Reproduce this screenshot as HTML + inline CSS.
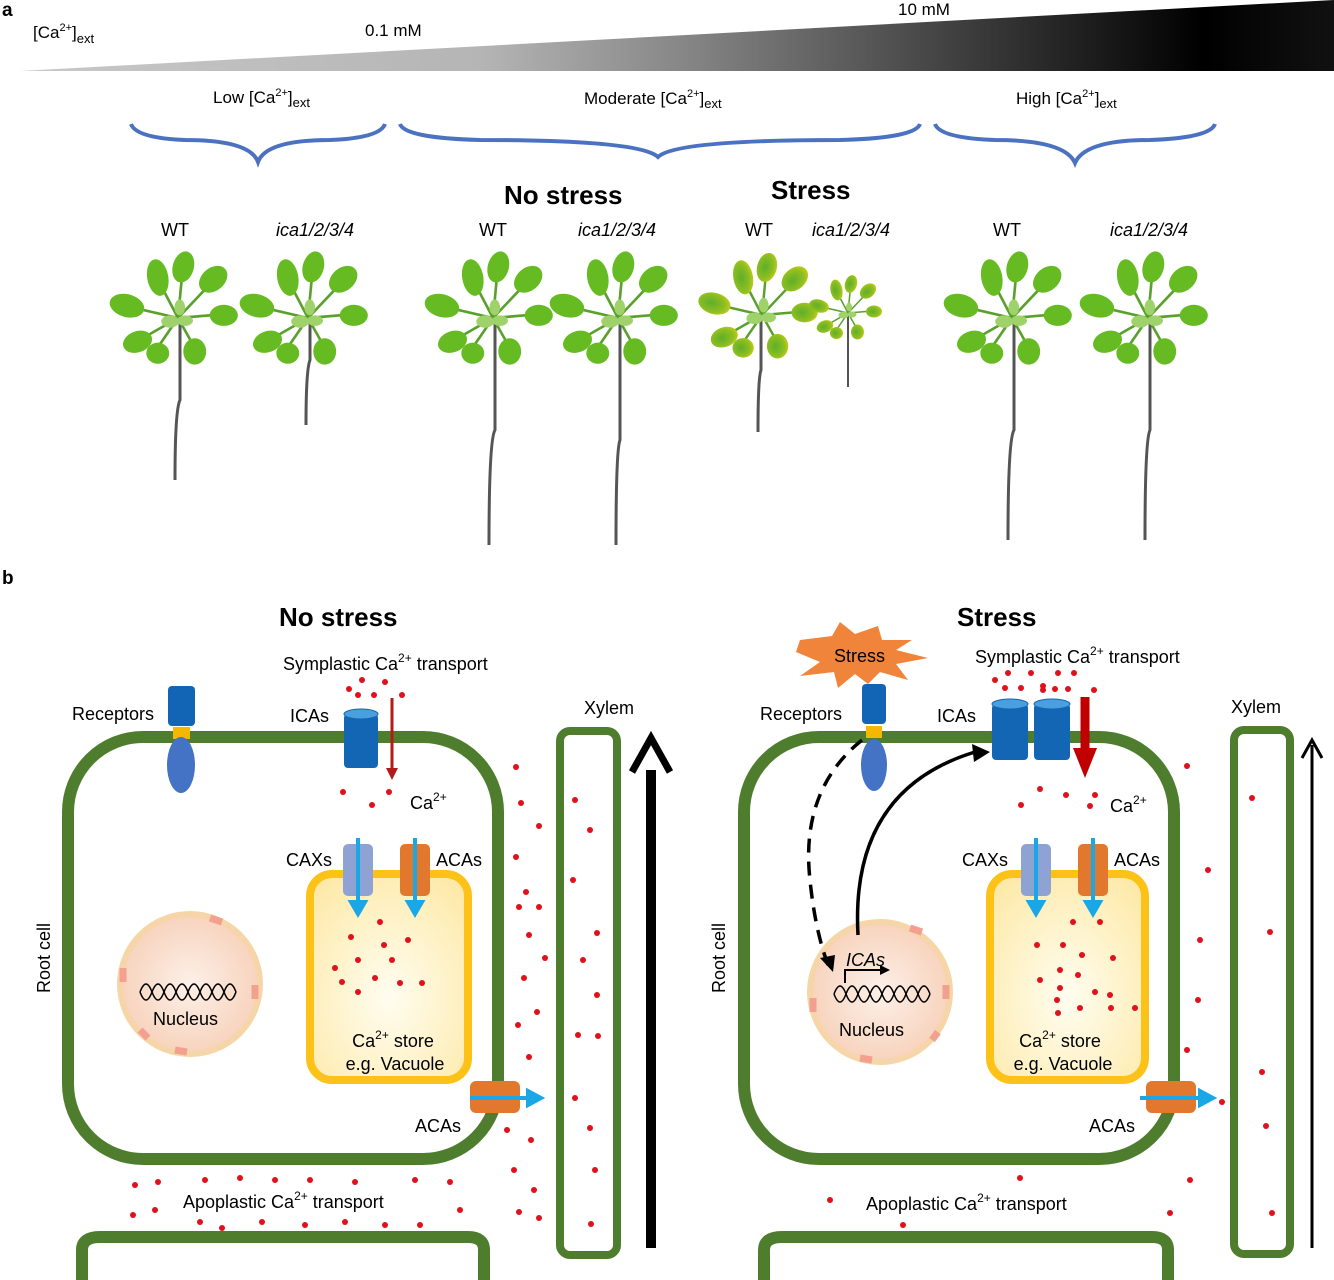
<!DOCTYPE html>
<html><head><meta charset="utf-8"><style>
body{margin:0;background:#fff;}
svg{display:block;font-family:"Liberation Sans",sans-serif;}
</style></head><body>
<svg width="1334" height="1280" viewBox="0 0 1334 1280" xmlns="http://www.w3.org/2000/svg">
<defs>
<linearGradient id="wg" x1="0" x2="1" y1="0" y2="0">
<stop offset="0" stop-color="#c8c8c8"/><stop offset="0.35" stop-color="#b5b5b5"/><stop offset="0.5" stop-color="#888"/><stop offset="0.75" stop-color="#333"/><stop offset="0.9" stop-color="#000"/><stop offset="1" stop-color="#111"/>
</linearGradient>
<radialGradient id="vg" cx="0.5" cy="0.6" r="0.7"><stop offset="0" stop-color="#fffdf0"/><stop offset="1" stop-color="#fde9a8"/></radialGradient>
<radialGradient id="ng" cx="0.5" cy="0.5" r="0.5"><stop offset="0" stop-color="#fdf0e8"/><stop offset="1" stop-color="#f7d3bd"/></radialGradient>
<radialGradient id="yl" cx="0.4" cy="0.5" r="0.7"><stop offset="0" stop-color="#5fae2a"/><stop offset="0.6" stop-color="#8fbf20"/><stop offset="1" stop-color="#dcd214"/></radialGradient>
<g id="plant">
<g stroke="#5aa02c" stroke-width="3">
<line x1="0" y1="0" x2="-52" y2="-12"/><line x1="0" y1="0" x2="-22" y2="-42"/><line x1="0" y1="0" x2="5" y2="-52"/><line x1="0" y1="0" x2="36" y2="-38"/><line x1="0" y1="0" x2="48" y2="-4"/><line x1="0" y1="0" x2="-42" y2="24"/><line x1="0" y1="0" x2="-22" y2="32"/><line x1="0" y1="0" x2="18" y2="32"/>
</g>
<g fill="#66bb22">
<ellipse cx="-58" cy="-14" rx="20" ry="13" transform="rotate(15 -58 -14)"/>
<ellipse cx="-23" cy="-46" rx="12" ry="21" transform="rotate(-10 -23 -46)"/>
<ellipse cx="6" cy="-58" rx="12" ry="18" transform="rotate(15 6 -58)"/>
<ellipse cx="40" cy="-44" rx="18" ry="13" transform="rotate(-40 40 -44)"/>
<ellipse cx="52" cy="-3" rx="16" ry="12"/>
<ellipse cx="-46" cy="27" rx="17" ry="12" transform="rotate(-20 -46 27)"/>
<ellipse cx="-23" cy="40" rx="13" ry="12"/>
<ellipse cx="19" cy="38" rx="13" ry="15"/>
</g>
<g fill="#9fd26a"><ellipse cx="-9" cy="4" rx="10" ry="7"/><ellipse cx="8" cy="3" rx="9" ry="6"/><ellipse cx="2" cy="-12" rx="6" ry="9"/></g>
</g>
<g id="splant">
<g stroke="#5aa02c" stroke-width="3">
<line x1="0" y1="0" x2="-52" y2="-12"/><line x1="0" y1="0" x2="-22" y2="-42"/><line x1="0" y1="0" x2="5" y2="-52"/><line x1="0" y1="0" x2="36" y2="-38"/><line x1="0" y1="0" x2="48" y2="-4"/><line x1="0" y1="0" x2="-42" y2="24"/><line x1="0" y1="0" x2="-22" y2="32"/><line x1="0" y1="0" x2="18" y2="32"/>
</g>
<g fill="url(#yl)">
<ellipse cx="-58" cy="-14" rx="20" ry="13" transform="rotate(15 -58 -14)"/>
<ellipse cx="-23" cy="-46" rx="12" ry="21" transform="rotate(-10 -23 -46)"/>
<ellipse cx="6" cy="-58" rx="12" ry="18" transform="rotate(15 6 -58)"/>
<ellipse cx="40" cy="-44" rx="18" ry="13" transform="rotate(-40 40 -44)"/>
<ellipse cx="52" cy="-3" rx="16" ry="12"/>
<ellipse cx="-46" cy="27" rx="17" ry="12" transform="rotate(-20 -46 27)"/>
<ellipse cx="-23" cy="40" rx="13" ry="12"/>
<ellipse cx="19" cy="38" rx="13" ry="15"/>
</g>
<g fill="#9fd26a"><ellipse cx="-9" cy="4" rx="10" ry="7"/><ellipse cx="8" cy="3" rx="9" ry="6"/><ellipse cx="2" cy="-12" rx="6" ry="9"/></g>
</g>
</defs>

<!-- panel a -->
<text x="2" y="16" font-size="19" font-weight="bold">a</text>
<polygon points="20,71 1334,0 1334,71" fill="url(#wg)"/>
<text x="33" y="38" font-size="17">[Ca<tspan font-size="11" dy="-7">2+</tspan><tspan dy="7">]</tspan><tspan font-size="13" dy="5">ext</tspan></text>
<text x="365" y="36" font-size="17">0.1 mM</text>
<text x="898" y="15" font-size="17">10 mM</text>
<text x="213" y="103" font-size="17">Low [Ca<tspan font-size="11" dy="-7">2+</tspan><tspan dy="7">]</tspan><tspan font-size="13" dy="4">ext</tspan></text>
<text x="584" y="104" font-size="17">Moderate [Ca<tspan font-size="11" dy="-7">2+</tspan><tspan dy="7">]</tspan><tspan font-size="13" dy="4">ext</tspan></text>
<text x="1016" y="104" font-size="17">High [Ca<tspan font-size="11" dy="-7">2+</tspan><tspan dy="7">]</tspan><tspan font-size="13" dy="4">ext</tspan></text>
<g fill="none" stroke="#4a72c0" stroke-width="4">
<path d="M131,124 Q136,138 185,140 Q250,140 258,162 Q266,140 330,140 Q380,138 385,124"/>
<path d="M400,124 Q405,138 480,140 Q640,140 658,157 Q675,140 840,140 Q915,138 920,124"/>
<path d="M935,124 Q940,138 995,140 Q1065,140 1075,163 Q1085,140 1150,140 Q1210,138 1215,124"/>
</g>
<text x="504" y="204" font-size="26" font-weight="bold">No stress</text>
<text x="771" y="199" font-size="26" font-weight="bold">Stress</text>
<g font-size="18">
<text x="161" y="236">WT</text><text x="276" y="236" font-style="italic">ica1/2/3/4</text>
<text x="479" y="236">WT</text><text x="578" y="236" font-style="italic">ica1/2/3/4</text>
<text x="745" y="236">WT</text><text x="812" y="236" font-style="italic">ica1/2/3/4</text>
<text x="993" y="236">WT</text><text x="1110" y="236" font-style="italic">ica1/2/3/4</text>
</g>
<g stroke="#555" stroke-width="3" fill="none">
<path d="M180,318 L180,400 Q175,410 175,480"/>
<path d="M310,318 L310,360 Q306,370 306,425"/>
<path d="M495,318 L495,430 Q489,440 489,545"/>
<path d="M620,318 L620,440 Q616,450 616,545"/>
<path d="M761,318 L761,370 Q758,378 758,432"/>
<path d="M848,315 L848,387" stroke-width="2"/>
<path d="M1014,318 L1014,430 Q1008,440 1008,540"/>
<path d="M1150,318 L1150,430 Q1145,440 1145,540"/>
</g>
<use href="#plant" transform="translate(178,318) scale(0.88)"/>
<use href="#plant" transform="translate(308,318) scale(0.88)"/>
<use href="#plant" transform="translate(493,318) scale(0.88)"/>
<use href="#plant" transform="translate(618,318) scale(0.88)"/>
<use href="#splant" transform="translate(762,315) scale(0.82)"/>
<use href="#splant" transform="translate(848,313) scale(0.5)"/>
<use href="#plant" transform="translate(1012,318) scale(0.88)"/>
<use href="#plant" transform="translate(1148,318) scale(0.88)"/>

<!-- panel b -->
<text x="2" y="584" font-size="19" font-weight="bold">b</text>
<text x="279" y="626" font-size="26" font-weight="bold">No stress</text>
<text x="957" y="626" font-size="26" font-weight="bold">Stress</text>

<g fill="none" stroke="#4e7d2e" stroke-width="12">
<rect x="68" y="737" width="430" height="422" rx="75"/>
<path d="M82,1280 L82,1250 Q82,1237 100,1237 L468,1237 Q484,1237 484,1250 L484,1280"/>
<rect x="744" y="737" width="430" height="422" rx="75"/>
<path d="M764,1280 L764,1250 Q764,1237 782,1237 L1152,1237 Q1168,1237 1168,1250 L1168,1280"/>
</g>
<g fill="none" stroke="#4e7d2e" stroke-width="8">
<rect x="560" y="731" width="57" height="524" rx="10"/>
<rect x="1234" y="730" width="56" height="524" rx="10"/>
</g>
<line x1="651" y1="1248" x2="651" y2="770" stroke="#000" stroke-width="10"/>
<path d="M632,772 L651,738 L670,772" fill="none" stroke="#000" stroke-width="7"/>
<line x1="1312" y1="1248" x2="1312" y2="745" stroke="#000" stroke-width="3"/>
<path d="M1302,758 L1312,740 L1322,758" fill="none" stroke="#000" stroke-width="3"/>

<g font-size="18">
<text x="584" y="714">Xylem</text><text x="1231" y="713">Xylem</text>
<text x="72" y="720">Receptors</text><text x="760" y="720">Receptors</text>
<text x="290" y="722">ICAs</text><text x="937" y="722">ICAs</text>
<text x="283" y="670">Symplastic Ca<tspan font-size="12" dy="-8">2+</tspan><tspan dy="8"> transport</tspan></text>
<text x="975" y="663">Symplastic Ca<tspan font-size="12" dy="-8">2+</tspan><tspan dy="8"> transport</tspan></text>
<text x="410" y="809">Ca<tspan font-size="12" dy="-8">2+</tspan></text>
<text x="1110" y="812">Ca<tspan font-size="12" dy="-8">2+</tspan></text>
<text x="286" y="866">CAXs</text><text x="436" y="866">ACAs</text>
<text x="962" y="866">CAXs</text><text x="1114" y="866">ACAs</text>
<text x="415" y="1132">ACAs</text><text x="1089" y="1132">ACAs</text>
<text x="183" y="1208">Apoplastic Ca<tspan font-size="12" dy="-8">2+</tspan><tspan dy="8"> transport</tspan></text>
<text x="866" y="1210">Apoplastic Ca<tspan font-size="12" dy="-8">2+</tspan><tspan dy="8"> transport</tspan></text>
<text transform="translate(50,993) rotate(-90)">Root cell</text>
<text transform="translate(725,993) rotate(-90)">Root cell</text>
</g>

<rect x="310" y="874" width="158" height="206" rx="22" fill="url(#vg)" stroke="#fdc217" stroke-width="8"/>
<rect x="990" y="874" width="155" height="206" rx="22" fill="url(#vg)" stroke="#fdc217" stroke-width="8"/>
<g font-size="18" text-anchor="middle">
<text x="393" y="1047">Ca<tspan font-size="12" dy="-8">2+</tspan><tspan dy="8"> store</tspan></text>
<text x="395" y="1070">e.g. Vacuole</text>
<text x="1060" y="1047">Ca<tspan font-size="12" dy="-8">2+</tspan><tspan dy="8"> store</tspan></text>
<text x="1063" y="1070">e.g. Vacuole</text>
</g>
<rect x="343" y="844" width="30" height="52" rx="5" fill="#8ea3d4"/>
<rect x="400" y="844" width="30" height="52" rx="5" fill="#e2782e"/>
<rect x="1021" y="844" width="30" height="52" rx="5" fill="#8ea3d4"/>
<rect x="1078" y="844" width="30" height="52" rx="5" fill="#e2782e"/>
<g stroke="#1aa7e6" stroke-width="4" fill="#1aa7e6">
<line x1="358" y1="838" x2="358" y2="904"/><path d="M351,902 L365,902 L358,914z"/>
<line x1="415" y1="838" x2="415" y2="904"/><path d="M408,902 L422,902 L415,914z"/>
<line x1="1036" y1="838" x2="1036" y2="904"/><path d="M1029,902 L1043,902 L1036,914z"/>
<line x1="1093" y1="838" x2="1093" y2="904"/><path d="M1086,902 L1100,902 L1093,914z"/>
</g>
<rect x="470" y="1081" width="50" height="32" rx="6" fill="#e2782e"/>
<rect x="1146" y="1081" width="50" height="32" rx="6" fill="#e2782e"/>
<g stroke="#1aa7e6" stroke-width="4" fill="#1aa7e6">
<line x1="470" y1="1098" x2="530" y2="1098"/><path d="M528,1091 L541,1098 L528,1105z"/>
<line x1="1140" y1="1098" x2="1202" y2="1098"/><path d="M1200,1091 L1213,1098 L1200,1105z"/>
</g>

<circle cx="190" cy="984" r="70" fill="url(#ng)" stroke="#f6d6a8" stroke-width="6"/>
<circle cx="880" cy="992" r="70" fill="url(#ng)" stroke="#f6d6a8" stroke-width="6"/>
<g stroke="#f2a090" stroke-width="7" fill="none">
<path d="M123,968 l0,14"/><path d="M255,985 l0,14"/><path d="M175,1050 l12,2"/><path d="M210,918 l12,4"/><path d="M140,1030 l8,8"/>
<path d="M813,998 l0,14"/><path d="M946,985 l0,14"/><path d="M860,1058 l12,2"/><path d="M910,928 l12,4"/><path d="M932,1040 l6,-8"/>
</g>
<g stroke="#000" stroke-width="1.5" fill="none">
<path d="M140,992 q6,-16 12,0 q6,16 12,0 q6,-16 12,0 q6,16 12,0 q6,-16 12,0 q6,16 12,0 q6,-16 12,0 q6,16 12,0"/>
<path d="M140,992 q6,16 12,0 q6,-16 12,0 q6,16 12,0 q6,-16 12,0 q6,16 12,0 q6,-16 12,0 q6,16 12,0 q6,-16 12,0"/>
<path d="M834,994 q6,-16 12,0 q6,16 12,0 q6,-16 12,0 q6,16 12,0 q6,-16 12,0 q6,16 12,0 q6,-16 12,0 q6,16 12,0"/>
<path d="M834,994 q6,16 12,0 q6,-16 12,0 q6,16 12,0 q6,-16 12,0 q6,16 12,0 q6,-16 12,0 q6,16 12,0 q6,-16 12,0"/>
</g>
<text x="153" y="1025" font-size="18">Nucleus</text>
<text x="839" y="1036" font-size="18">Nucleus</text>
<text x="846" y="966" font-size="18" font-style="italic">ICAs</text>
<path d="M845,983 L845,970 L882,970" stroke="#000" stroke-width="2" fill="none"/>
<path d="M880,965 L890,970 L880,975z" fill="#000"/>

<rect x="168" y="686" width="27" height="40" rx="4" fill="#1265b5"/>
<rect x="173" y="727" width="17" height="12" fill="#f5b800"/>
<ellipse cx="181" cy="765" rx="14" ry="28" fill="#4472c4"/>
<rect x="862" y="684" width="24" height="40" rx="4" fill="#1265b5"/>
<rect x="866" y="726" width="16" height="12" fill="#f5b800"/>
<ellipse cx="874" cy="765" rx="13" ry="26" fill="#4472c4"/>
<polygon points="800,640 832,636 840,622 855,634 878,626 882,640 912,640 896,650 928,658 896,664 908,680 880,672 868,684 855,674 838,688 834,672 800,676 820,662 796,652" fill="#f0843a"/>
<text x="834" y="662" font-size="18">Stress</text>

<rect x="344" y="714" width="34" height="54" rx="4" fill="#1266b4"/><ellipse cx="361" cy="714" rx="17" ry="5" fill="#4aa0de" stroke="#1266b4"/>
<rect x="992" y="704" width="36" height="56" rx="4" fill="#1266b4"/><ellipse cx="1010" cy="704" rx="18" ry="5" fill="#4aa0de" stroke="#1266b4"/>
<rect x="1034" y="704" width="36" height="56" rx="4" fill="#1266b4"/><ellipse cx="1052" cy="704" rx="18" ry="5" fill="#4aa0de" stroke="#1266b4"/>
<line x1="392" y1="698" x2="392" y2="770" stroke="#b31b1b" stroke-width="3"/>
<path d="M386,768 L398,768 L392,780z" fill="#b31b1b"/>
<line x1="1085" y1="697" x2="1085" y2="750" stroke="#c00000" stroke-width="9"/>
<path d="M1073,748 L1097,748 L1085,778z" fill="#c00000"/>

<path d="M862,740 Q800,790 810,880 Q815,930 828,965" fill="none" stroke="#000" stroke-width="3.5" stroke-dasharray="14,9"/>
<path d="M820,958 L833,972 L835,955z" fill="#000"/>
<path d="M858,935 Q850,790 975,752" fill="none" stroke="#000" stroke-width="3.5"/>
<path d="M972,744 L990,752 L974,762z" fill="#000"/>

<g fill="#e0111b">
<circle cx="349" cy="689" r="3"/><circle cx="362" cy="680" r="3"/><circle cx="385" cy="682" r="3"/><circle cx="358" cy="695" r="3"/><circle cx="374" cy="695" r="3"/><circle cx="402" cy="695" r="3"/>
<circle cx="343" cy="792" r="3"/><circle cx="389" cy="792" r="3"/><circle cx="372" cy="805" r="3"/>
<circle cx="351" cy="937" r="3"/><circle cx="380" cy="922" r="3"/><circle cx="384" cy="945" r="3"/><circle cx="408" cy="940" r="3"/><circle cx="335" cy="968" r="3"/><circle cx="358" cy="960" r="3"/><circle cx="375" cy="978" r="3"/><circle cx="342" cy="982" r="3"/><circle cx="358" cy="992" r="3"/><circle cx="400" cy="983" r="3"/><circle cx="422" cy="983" r="3"/><circle cx="392" cy="960" r="3"/>
<circle cx="516" cy="767" r="3"/><circle cx="521" cy="803" r="3"/><circle cx="539" cy="826" r="3"/><circle cx="516" cy="857" r="3"/><circle cx="526" cy="892" r="3"/><circle cx="519" cy="907" r="3"/><circle cx="539" cy="907" r="3"/><circle cx="529" cy="935" r="3"/><circle cx="545" cy="958" r="3"/><circle cx="524" cy="978" r="3"/><circle cx="537" cy="1012" r="3"/><circle cx="518" cy="1025" r="3"/><circle cx="529" cy="1057" r="3"/><circle cx="507" cy="1130" r="3"/><circle cx="531" cy="1140" r="3"/><circle cx="514" cy="1170" r="3"/><circle cx="534" cy="1190" r="3"/><circle cx="519" cy="1212" r="3"/><circle cx="539" cy="1218" r="3"/>
<circle cx="575" cy="800" r="3"/><circle cx="590" cy="830" r="3"/><circle cx="573" cy="880" r="3"/><circle cx="597" cy="933" r="3"/><circle cx="583" cy="960" r="3"/><circle cx="597" cy="995" r="3"/><circle cx="578" cy="1035" r="3"/><circle cx="598" cy="1036" r="3"/><circle cx="590" cy="1128" r="3"/><circle cx="595" cy="1170" r="3"/><circle cx="591" cy="1224" r="3"/><circle cx="575" cy="1098" r="3"/>
<circle cx="135" cy="1185" r="3"/><circle cx="158" cy="1182" r="3"/><circle cx="205" cy="1180" r="3"/><circle cx="240" cy="1178" r="3"/><circle cx="275" cy="1180" r="3"/><circle cx="310" cy="1180" r="3"/><circle cx="355" cy="1182" r="3"/><circle cx="415" cy="1180" r="3"/><circle cx="450" cy="1182" r="3"/><circle cx="133" cy="1215" r="3"/><circle cx="155" cy="1210" r="3"/><circle cx="200" cy="1222" r="3"/><circle cx="222" cy="1228" r="3"/><circle cx="262" cy="1222" r="3"/><circle cx="305" cy="1225" r="3"/><circle cx="345" cy="1222" r="3"/><circle cx="385" cy="1225" r="3"/><circle cx="420" cy="1225" r="3"/><circle cx="460" cy="1210" r="3"/>
<circle cx="995" cy="680" r="3"/><circle cx="1008" cy="673" r="3"/><circle cx="1031" cy="673" r="3"/><circle cx="1058" cy="673" r="3"/><circle cx="1074" cy="673" r="3"/><circle cx="1005" cy="688" r="3"/><circle cx="1021" cy="688" r="3"/><circle cx="1043" cy="686" r="3"/><circle cx="1043" cy="690" r="3"/><circle cx="1055" cy="689" r="3"/><circle cx="1068" cy="689" r="3"/><circle cx="1094" cy="690" r="3"/>
<circle cx="1040" cy="789" r="3"/><circle cx="1066" cy="795" r="3"/><circle cx="1095" cy="795" r="3"/><circle cx="1021" cy="805" r="3"/><circle cx="1090" cy="806" r="3"/><circle cx="1187" cy="766" r="3"/>
<circle cx="1073" cy="922" r="3"/><circle cx="1100" cy="922" r="3"/><circle cx="1037" cy="945" r="3"/><circle cx="1063" cy="945" r="3"/><circle cx="1082" cy="955" r="3"/><circle cx="1113" cy="958" r="3"/><circle cx="1040" cy="980" r="3"/><circle cx="1060" cy="970" r="3"/><circle cx="1078" cy="975" r="3"/><circle cx="1060" cy="988" r="3"/><circle cx="1095" cy="992" r="3"/><circle cx="1057" cy="1000" r="3"/><circle cx="1110" cy="995" r="3"/><circle cx="1080" cy="1008" r="3"/><circle cx="1111" cy="1008" r="3"/><circle cx="1135" cy="1008" r="3"/><circle cx="1058" cy="1013" r="3"/>
<circle cx="1208" cy="870" r="3"/><circle cx="1200" cy="940" r="3"/><circle cx="1198" cy="1000" r="3"/><circle cx="1187" cy="1050" r="3"/><circle cx="1222" cy="1102" r="3"/><circle cx="1252" cy="798" r="3"/><circle cx="1270" cy="932" r="3"/><circle cx="1262" cy="1072" r="3"/><circle cx="1266" cy="1126" r="3"/><circle cx="1272" cy="1213" r="3"/><circle cx="1190" cy="1180" r="3"/><circle cx="1170" cy="1213" r="3"/>
<circle cx="830" cy="1200" r="3"/><circle cx="903" cy="1225" r="3"/><circle cx="1020" cy="1178" r="3"/>
</g>
</svg>
</body></html>
